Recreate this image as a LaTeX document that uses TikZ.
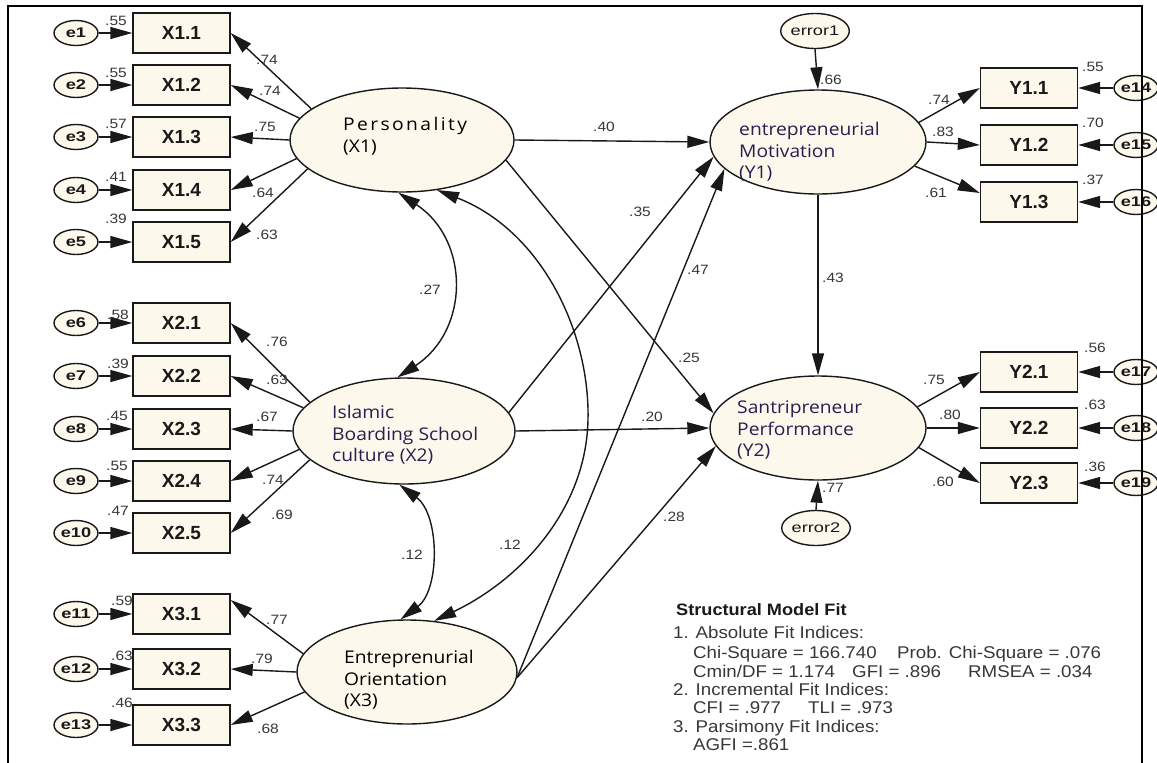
\documentclass[tikz,border=0pt]{standalone}
\usepackage{fontspec}
\setmainfont{Liberation Sans}
\newfontfamily\fntBox{Liberation Sans}
\newfontfamily\fntE[FakeStretch=1.3]{Liberation Sans}
\newfontfamily\fntNum[FakeStretch=1.15]{Liberation Sans}
\newfontfamily\fntFit[FakeStretch=1.1]{Liberation Sans}
\newfontfamily\fntLat[FakeStretch=1.1]{Open Sans}
\usetikzlibrary{arrows.meta,calc,shapes.geometric}
\definecolor{cream}{RGB}{253,248,236}
\definecolor{ink}{RGB}{25,25,25}
\definecolor{numc}{RGB}{55,55,55}
\definecolor{latc}{RGB}{40,30,80}
\newcommand\myls{\kern2.4pt}
\tikzset{
 obs/.style={draw=ink, line width=1.4pt, fill=cream, minimum width=97pt, minimum height=40pt, inner sep=0pt, font=\fntBox\bfseries\fontsize{19}{19}\selectfont, text=ink},
 err/.style={ellipse, draw=ink, line width=1.4pt, fill=cream, minimum width=44pt, minimum height=25pt, inner sep=0pt, font=\fntE\bfseries\fontsize{14}{14}\selectfont, text=ink},
 errbig/.style={ellipse, draw=ink, line width=1.4pt, fill=cream, minimum width=62pt, minimum height=35pt, inner sep=0pt, font=\fntE\fontsize{14}{14}\selectfont, text=ink},
 lat/.style={ellipse, draw=ink, line width=1.4pt, fill=cream, inner sep=0pt},
 lattext/.style={anchor=west, align=left, inner sep=0pt, font=\fntLat\fontsize{17.5}{21.5}\selectfont},
 num/.style={inner sep=0pt, font=\fntNum\fontsize{13.5}{13.5}\selectfont, text=numc},
 arr/.style={draw=ink, line width=1.4pt, -{Triangle[length=22pt,width=12pt]}},
 darr/.style={draw=ink, line width=1.4pt, {Triangle[length=22pt,width=12pt]}-{Triangle[length=22pt,width=12pt]}},
 fitt/.style={anchor=base west, inner sep=0pt, font=\fntFit\fontsize{17}{17}\selectfont, text=numc},
 fith/.style={anchor=base west, inner sep=0pt, font=\fntFit\bfseries\fontsize{16.5}{16.5}\selectfont, text=ink},
}
\begin{document}
\begin{tikzpicture}[x=1pt,y=-1pt]
\useasboundingbox (0,0) rectangle (1157,763);
\fill[white] (0,0) rectangle (1157,763);

% latent variables
\node[lat, minimum width=224pt, minimum height=104pt] (P) at (402,140) {};
\node[lat, minimum width=222pt, minimum height=106pt] (X2) at (404,431) {};
\node[lat, minimum width=220pt, minimum height=104pt] (X3) at (407,672) {};
\node[lat, minimum width=216pt, minimum height=104pt] (Y1) at (818,142) {};
\node[lat, minimum width=216pt, minimum height=104pt] (Y2) at (818,428) {};
\node[lattext, text=black] (Ptxt) at (343,136) {P\myls e\myls r\myls s\myls o\myls n\myls a\myls l\myls i\myls t\myls y\\(X1)};
\node[lattext, text=latc] (X2txt) at (332,435) {Islamic\\Boarding School\\culture (X2)};
\node[lattext, text=black] (X3txt) at (344,680) {Entreprenurial\\Orientation\\(X3)};
\node[lattext, text=latc] (Y1txt) at (739,152) {entrepreneurial\\Motivation\\(Y1)};
\node[lattext, text=latc] (Y2txt) at (737,430) {Santripreneur\\Performance\\(Y2)};

% left indicators
\foreach \nm/\lab/\yy/\ee in {X11/X1.1/33/e1, X12/X1.2/85/e2, X13/X1.3/137/e3, X14/X1.4/190/e4, X15/X1.5/242/e5,
  X21/X2.1/323/e6, X22/X2.2/376/e7, X23/X2.3/429/e8, X24/X2.4/481/e9, X25/X2.5/533/e10,
  X31/X3.1/614/e11, X32/X3.2/669/e12, X33/X3.3/725/e13} {
  \node[obs] (\nm) at (181.5,\yy) {\lab};
  \node[err] (\ee) at (76,\yy) {\ee};
  \draw[arr] (\ee) -- (\nm.west);
}
% right indicators
\foreach \nm/\lab/\yy/\ee in {Y11/Y1.1/88/e14, Y12/Y1.2/145/e15, Y13/Y1.3/202/e16,
  Y21/Y2.1/372/e17, Y22/Y2.2/428/e18, Y23/Y2.3/483/e19} {
  \node[obs] (\nm) at (1029,\yy) {\lab};
  \node[err] (\ee) at (1136,\yy) {\ee};
  \draw[arr] (\ee) -- (\nm.east);
}

% variance labels
\foreach \xx/\yy/\t [count=\i] in {116/21/.55, 116/73/.55, 116/124/.57, 116/177/.41, 116/219/.39,
  118/315/.58, 118/364/.39, 117/416/.45, 117/466/.55, 118/511/.47,
  122/601/.59, 122/656/.63, 122/703/.46,
  1093/67/.55, 1093/123/.70, 1093/180/.37, 1095/348/.56, 1095/405/.63, 1095/467/.36} {
  \node[num] (v\i) at (\xx,\yy) {\t};
}

% loadings
\draw[arr] (P.161) -- (X11.east);
\draw[arr] (P.168) -- (X12.east);
\draw[arr] (P.west) -- (X13.east);
\draw[arr] (P.190) -- (X14.east);
\draw[arr] (P.197) -- (X15.east);
\draw[arr] (X2.163) -- (X21.east);
\draw[arr] (X2.167) -- (X22.east);
\draw[arr] (X2.west) -- (X23.east);
\draw[arr] (X2.190) -- (X24.east);
\draw[arr] (X2.197) -- (X25.east);
\draw[arr] (X3.170) -- ($(X31.east)+(0,-14)$);
\draw[arr] (X3.west) -- (X32.east);
\draw[arr] (X3.191) -- (X33.east);
\draw[arr] (Y1.11) -- (Y11.west);
\draw[arr] (Y1.east) -- (Y12.west);
\draw[arr] (Y1.-14) -- ($(Y13.west)+(0,-9)$);
\draw[arr] (Y2.12) -- (Y21.west);
\draw[arr] (Y2.east) -- (Y22.west);
\draw[arr] (Y2.-11) -- (Y23.west);

\foreach \xx/\yy/\t [count=\i] in {267/60/.74, 270/91/.74, 265/127/.75, 263/193/.64, 267/235/.63,
  277/342/.76, 277/380/.63, 267/417/.67, 273/480/.74, 282/515/.69,
  277/620/.77, 262/659/.79, 268/729/.68,
  939/100/.74, 943/132/.83, 936/193/.61, 934/380/.75, 950/415/.80, 943/482/.60} {
  \node[num] (l\i) at (\xx,\yy) {\t};
}

% errors of endogenous
\node[errbig] (error1) at (815,31) {error1};
\node[errbig] (error2) at (816,528) {error2};
\draw[arr] (error1.south) -- (Y1.north);
\draw[arr] (error2.north) -- (Y2.south);
\node[num] (r1) at (831,80) {.66};
\node[num] (r2) at (833,488) {.77};

% structural paths
\draw[arr] (P.east) -- (Y1.west);
\draw[arr] (P.-11) -- (Y2.172);
\draw[arr] (X2.10) -- (Y1.188);
\draw[arr] (X2.east) -- (Y2.west);
\draw[arr] (X3.-3) -- (Y1.196);
\draw[arr] (X3.-3) -- (Y2.190);
\draw[arr] (Y1.south) -- (Y2.north);
\node[num] (s1) at (604,127) {.40};
\node[num] (s2) at (689,358) {.25};
\node[num] (s3) at (640,212) {.35};
\node[num] (s4) at (652,417) {.20};
\node[num] (s5) at (698,270) {.47};
\node[num] (s6) at (674,517) {.28};
\node[num] (s7) at (833,278) {.43};

% covariances
\draw[darr] (P.-94) .. controls (470,240) and (470,330) .. (X2.97);
\draw[darr] (X2.-95) .. controls (440,515) and (440,590) .. (X3.97);
\draw[darr] (P.-55) .. controls (540,230) and (590,330) .. (588,420) .. controls (586,510) and (520,580) .. (X3.62);
\node[num] (c1) at (430,290) {.27};
\node[num] (c2) at (412,555) {.12};
\node[num] (c3) at (510,545) {.12};

% model fit text
\node[fith] (fit0) at (676,615) {Structural Model Fit};
\node[fitt] (fit1) at (673,638) {1. Absolute Fit Indices:};
\node[fitt] (fit2) at (693,658) {Chi-Square = 166.740};
\node[fitt] (fit3) at (897,658) {Prob. Chi-Square = .076};
\node[fitt] (fit4) at (693,677) {Cmin/DF = 1.174};
\node[fitt] (fit5) at (852,677) {GFI = .896};
\node[fitt] (fit6) at (968,677) {RMSEA = .034};
\node[fitt] (fit7) at (673,695) {2. Incremental Fit Indices:};
\node[fitt] (fit8) at (693,713) {CFI = .977};
\node[fitt] (fit9) at (808,713) {TLI = .973};
\node[fitt] (fit10) at (673,732) {3. Parsimony Fit Indices:};
\node[fitt] (fit11) at (693,750) {AGFI =.861};

% frame
\draw[black, line width=2pt] (8,763) -- (8,6) -- (1142,6) -- (1142,763);
\end{tikzpicture}
\end{document}
